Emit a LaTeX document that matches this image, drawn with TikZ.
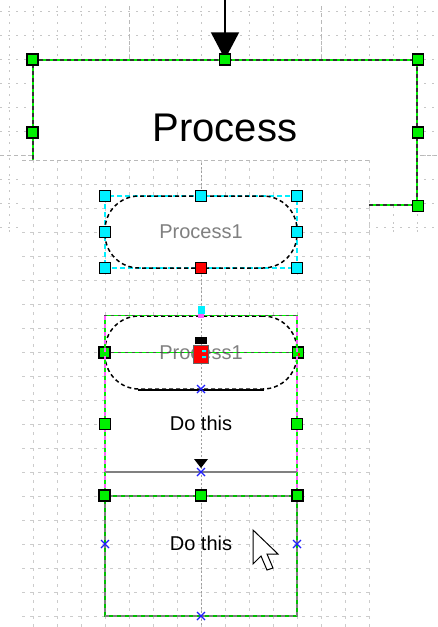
\documentclass[tikz,border=0pt]{standalone}
\usepackage{fontspec}
\setmainfont{Liberation Sans}
\usetikzlibrary{positioning,arrows.meta}
\definecolor{hgreen}{RGB}{0,240,0}
\definecolor{hcyan}{RGB}{0,240,255}
\definecolor{guidepink}{RGB}{255,90,255}
\definecolor{xblue}{RGB}{30,30,255}
\tikzset{
  gridline/.style={gray!45, line width=1pt, dash pattern=on 1.5pt off 6.5pt},
  lowgrid/.style={gray!40, line width=1pt, dash pattern=on 2.5pt off 5.5pt},
  majorline/.style={gray!55, line width=1pt, dash pattern=on 4pt off 3pt},
  guideline/.style={gray!75, line width=1pt, dash pattern=on 2pt off 2pt},
  selbox/.style={draw=hgreen, line width=1.5pt, postaction={draw=black!80, dash pattern=on 4pt off 3pt, line width=1.5pt}},
  greybox/.style={draw=hgreen!80!black, line width=1.3pt, postaction={draw=gray, dash pattern=on 4pt off 4pt, line width=1.3pt}},
  greendash/.style={hgreen, line width=1.3pt, postaction={draw=black!70, dash pattern=on 3pt off 4pt, line width=1.3pt}},
  cyandash/.style={hcyan, line width=1.5pt, dash pattern=on 5pt off 3pt},
  pinkdash/.style={hgreen, line width=1.3pt, postaction={draw=guidepink, dash pattern=on 4pt off 4pt, line width=1.3pt}},
  handle/.style={draw=black, fill=hgreen, minimum size=11pt, inner sep=0pt, line width=1.5pt},
  cyanhandle/.style={handle, fill=hcyan},
  redhandle/.style={handle, fill=red},
  xmark/.pic={\draw[xblue, line width=1.3pt] (-4,-4)--(4,4) (-4,4)--(4,-4);},
  terminal/.style={rounded corners=34pt, minimum width=192pt, inner sep=0pt},
  smalltext/.style={font=\fontsize{20}{20}\selectfont}
}
\begin{document}
\begin{tikzpicture}[x=1pt,y=-1pt]
\useasboundingbox (0,0) rectangle (437,627);
% upper grid
\foreach \x in {9,33,...,417} \draw[gridline] (\x,6)--(\x,238);
\foreach \y in {11,35,...,227} \draw[gridline] (0,\y)--(437,\y);
\foreach \x in {129,321} \draw[majorline] (\x,6)--(\x,60);
\draw[majorline] (0,155)--(437,155);

% the Process shape
\node[selbox, fill=white, minimum width=384pt, minimum height=145pt, inner sep=0pt] (proc) at (225,132.5) {};
\node[font=\fontsize{40}{40}\selectfont] (proctext) at (225,128) {Process};
\coordinate (in) at (225,0);
\draw[line width=2pt, -{Triangle[length=27pt,width=28pt]}] (in) -- (proc.north);

% lower window with its grid
\fill[white] (22,160) rectangle (369,627);
\foreach \x in {33,57,...,369} \draw[lowgrid] (\x,160)--(\x,627);
\foreach \y in {184,208,...,616} \draw[lowgrid] (22,\y)--(369,\y);
\draw[majorline] (22,160)--(369,160);
\fill[white] (105,316) rectangle (297,496);
\draw[guideline] (201,163)--(201,627);

\foreach \a in {north west,north,north east,west,east,south east}
  \node[handle] at (proc.\a) {};

% Process1, selected
\node[terminal, fill=white, minimum height=72pt] (p1) at (201,232) {};
\draw[cyandash] (p1.north west) rectangle (p1.south east);
\node[terminal, draw=black, line width=1.5pt, dash pattern=on 4pt off 3pt, minimum height=72pt,
  text=black!50, smalltext] at (201,232) {Process1};
\foreach \a in {north west,north,north east,west,east,south west,south east}
  \node[cyanhandle] at (p1.\a) {};
\node[redhandle] at (p1.south) {};

% Process1, dragged copy
\node[terminal, draw=black, line width=1.5pt, dash pattern=on 4pt off 3pt, minimum height=73pt,
  text=black!50, smalltext] (p2) at (201,352.5) {Process1};
\draw[black, line width=1.5pt] ([xshift=-63pt]p2.south) -- ([xshift=63pt]p2.south);
\draw[greendash] (p2.north west) -- (p2.north east);
\draw[greendash, line width=1pt] (p2.west) -- (p2.east);
\node[fill=hcyan, minimum width=7pt, minimum height=8pt, inner sep=0pt] at (201,310) {};
\node[fill=guidepink, minimum width=6pt, minimum height=4pt, inner sep=0pt] at (201,316) {};
\node[fill=black, minimum width=12pt, minimum height=7pt, inner sep=0pt] at (201,340) {};
\node[fill=red, draw=black!60, line width=1pt, minimum width=15pt, minimum height=18pt, inner sep=0pt] (drop) at (201,354) {};
\fill[hcyan] (202,350) rectangle (206,352) (202,356) rectangle (206,358);
\node[handle] (p2w) at (p2.west) {};
\node[handle] (p2e) at (p2.east) {};
\fill[red] (p2w.center) rectangle +(2,3);
\fill[red] (p2e.center) rectangle +(2,3);

% Do this, upper
\coordinate (dl) at (105,316);
\coordinate (dr) at (297,316);
\coordinate (dlb) at (105,496);
\coordinate (drb) at (297,496);
\draw[pinkdash] (dl) -- (dlb);
\draw[pinkdash] (dr) -- (drb);
\node[smalltext] (do1) at (201,423) {Do this};
\node[handle] at (105,424) {};
\node[handle] at (297,424) {};
\coordinate (sl) at (105,472);
\coordinate (sr) at (297,472);
\draw[gray, line width=1.5pt] (sl) -- (sr);
\fill[black] (194,459) -- (208,459) -- (201,468) -- cycle;

% Do this, lower
\node[greybox, minimum width=192pt, minimum height=120pt, inner sep=0pt] (box) at (201,556) {};
\node[smalltext] (do2) at (201,543) {Do this};
\foreach \a in {north west,north,north east}
  \node[handle] at (box.\a) {};

% connection points
\foreach \p in {(201,389),(201,472),(105,544),(297,544),(201,616)}
  \pic at \p {xmark};

% mouse pointer
\draw[fill=white, line width=1pt] (253,530) -- ++(0,34) -- ++(8,-8) -- ++(6,14) -- ++(6,-2) -- ++(-6,-14) -- ++(11,0) -- cycle;
\end{tikzpicture}
\end{document}
